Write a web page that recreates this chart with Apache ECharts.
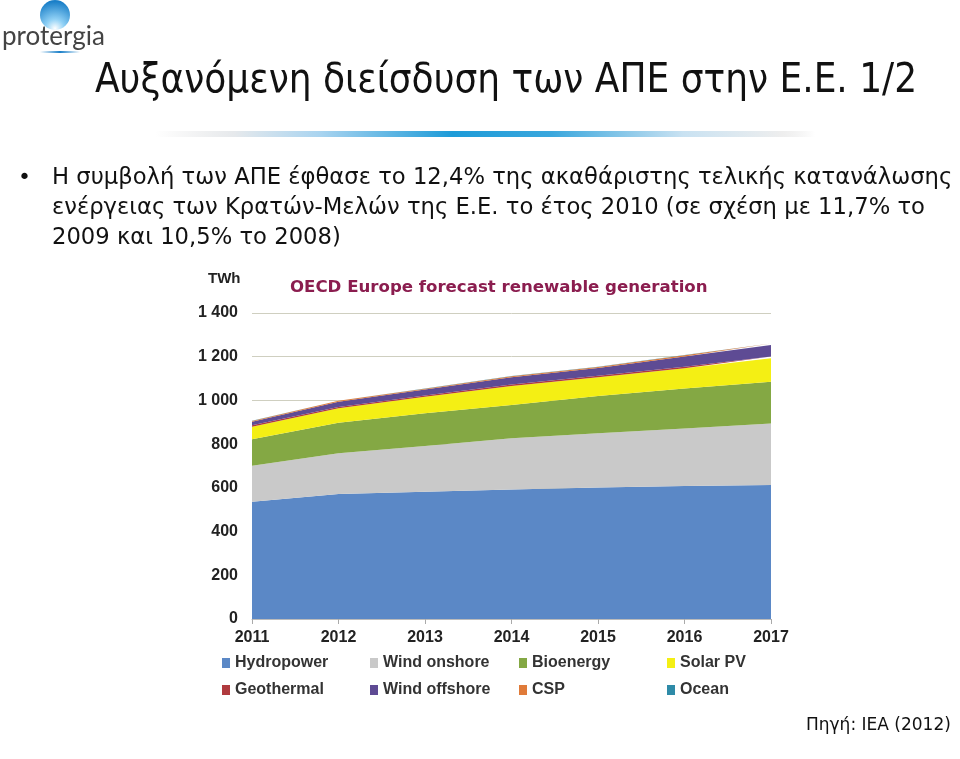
<!DOCTYPE html>
<html>
<head>
<meta charset="utf-8">
<script src="https://cdn.jsdelivr.net/npm/echarts@6/dist/echarts.min.js"></script>
<style>
html,body{margin:0;padding:0;background:#fff;}
#c{width:960px;height:759px;}
</style>
</head>
<body>
<div id="c"></div>
<script>
const years = ['2011','2012','2013','2014','2015','2016','2017'];
const hydropower   = [537, 572, 582, 593, 602, 608, 613];
const windOnshore  = [164, 186, 209, 234, 248, 264, 282];
const bioenergy    = [121, 140, 150, 152, 170, 183, 191];
const solarPV      = [58, 66, 76, 87, 86, 92, 107];
const geothermal   = [6, 6, 6, 7, 7, 7, 8];
const windOffshore = [17, 24, 27, 33, 35, 47, 53];
const csp          = [3, 4, 4, 5, 5, 6, 6];
const ocean        = [1, 1, 1, 1, 1, 1, 1];
const yTicks = [0, 200, 400, 600, 800, 1000, 1200, 1400];

const seriesDefs = [
  ['Hydropower', hydropower, '#5b88c6'],
  ['Wind onshore', windOnshore, '#c9c9c9'],
  ['Bioenergy', bioenergy, '#84a844'],
  ['Solar PV', solarPV, '#f4ef14'],
  ['Geothermal', geothermal, '#b03a3e'],
  ['Wind offshore', windOffshore, '#5e4b94'],
  ['CSP', csp, '#e07b39'],
  ['Ocean', ocean, '#2e8ba8']
];

const chart = echarts.init(document.getElementById('c'), null, {renderer:'canvas'});
const legendText = {fontFamily:'Liberation Sans, Arial, sans-serif', fontWeight:'bold', fontSize:16, color:'#333', lineHeight:16};
function mkLegend(items, left){
  return {data: items, left: left, top: 655, orient:'vertical', icon:'rect', itemWidth:8, itemHeight:10, itemGap:11, textStyle: legendText, padding:0};
}
const option = {
  backgroundColor:'#ffffff',
  animation:false,
  grid:{left:252, right:189, top:313, bottom:140},
  legend:[
    mkLegend(['Hydropower','Geothermal'], 222),
    mkLegend(['Wind onshore','Wind offshore'], 370),
    mkLegend(['Bioenergy','CSP'], 519),
    mkLegend(['Solar PV','Ocean'], 667)
  ],
  xAxis:{
    type:'category', data:years, boundaryGap:false,
    axisLine:{lineStyle:{color:'#bbbbbb'}},
    axisTick:{show:true, length:5, lineStyle:{color:'#aaaaaa'}},
    axisLabel:{fontFamily:'Liberation Sans, Arial, sans-serif', fontWeight:'bold', fontSize:16, color:'#222', margin:11}
  },
  yAxis:{
    type:'value', min:yTicks[0], max:yTicks[yTicks.length-1], interval:200,
    axisLine:{show:false}, axisTick:{show:false},
    splitLine:{lineStyle:{color:'#cfcfc0', width:1}},
    axisLabel:{fontFamily:'Liberation Sans, Arial, sans-serif', fontWeight:'bold', fontSize:16, color:'#222', margin:14,
      formatter:function(v){ return v >= 1000 ? String(v).replace(/(\d)(\d{3})$/, '$1 $2') : String(v); }}
  },
  series: seriesDefs.map(function(d){
    return {name:d[0], type:'line', stack:'total', data:d[1], symbol:'none',
      lineStyle:{width:0}, itemStyle:{color:d[2]}, areaStyle:{color:d[2], opacity:1}};
  }),
  graphic:[
    // logo
    {type:'circle', shape:{cx:55, cy:15, r:15}, style:{fill:{type:'radial', x:0.5, y:0.95, r:0.9,
      colorStops:[{offset:0,color:'#ffffff'},{offset:0.35,color:'#8fd0f5'},{offset:1,color:'#1a7fc8'}]}}},
    {type:'text', left:2, top:24, style:{text:'protergia', font:'26px Lato, "DejaVu Sans", sans-serif', fill:'#444'}},
    {type:'rect', shape:{x:40, y:51, width:40, height:2}, style:{fill:{type:'linear',x:0,y:0,x2:1,y2:0,
      colorStops:[{offset:0,color:'rgba(26,127,200,0)'},{offset:0.5,color:'#1a7fc8'},{offset:1,color:'rgba(26,127,200,0)'}]}}},
    // title
    {type:'text', left:95, top:62, style:{text:'Αυξανόμενη διείσδυση των ΑΠΕ στην Ε.Ε. 1/2', font:'40px "DejaVu Sans Condensed", sans-serif', fill:'#111'}},
    // separator
    {type:'rect', shape:{x:155, y:131, width:660, height:6}, style:{fill:{type:'linear',x:0,y:0,x2:1,y2:0,
      colorStops:[{offset:0,color:'rgba(230,230,230,0)'},{offset:0.12,color:'#e6e9ec'},{offset:0.25,color:'#a9d4f0'},
        {offset:0.45,color:'#1d9bd8'},{offset:0.6,color:'#3aa7dd'},{offset:0.8,color:'#c9e2f2'},{offset:0.95,color:'#eeeeee'},{offset:1,color:'rgba(230,230,230,0)'}]}}},
    // bullet text
    {type:'text', left:18, top:167, style:{text:'•', font:'22px "DejaVu Sans", sans-serif', fill:'#111'}},
    {type:'text', left:52, top:167, style:{text:'Η συμβολή των ΑΠΕ έφθασε το 12,4% της ακαθάριστης τελικής κατανάλωσης', font:'22.7px "DejaVu Sans", sans-serif', fill:'#111'}},
    {type:'text', left:52, top:197, style:{text:'ενέργειας των Κρατών-Μελών της Ε.Ε. το έτος 2010 (σε σχέση με 11,7% το', font:'22.7px "DejaVu Sans", sans-serif', fill:'#111'}},
    {type:'text', left:52, top:227, style:{text:'2009 και 10,5% το 2008)', font:'22.7px "DejaVu Sans", sans-serif', fill:'#111'}},
    // chart title + unit
    {type:'text', left:290, top:279, style:{text:'OECD Europe forecast renewable generation', font:'bold 16.6px "DejaVu Sans", Arial, sans-serif', fill:'#8b1d4f'}},
    {type:'text', left:208, top:271, style:{text:'TWh', font:'bold 15px "Liberation Sans", Arial, sans-serif', fill:'#222'}},
    // source
    {type:'text', left:806, top:717, style:{text:'Πηγή: IEA (2012)', font:'17px "DejaVu Sans", sans-serif', fill:'#111'}}
  ]
};
chart.setOption(option);
</script>
</body>
</html>
